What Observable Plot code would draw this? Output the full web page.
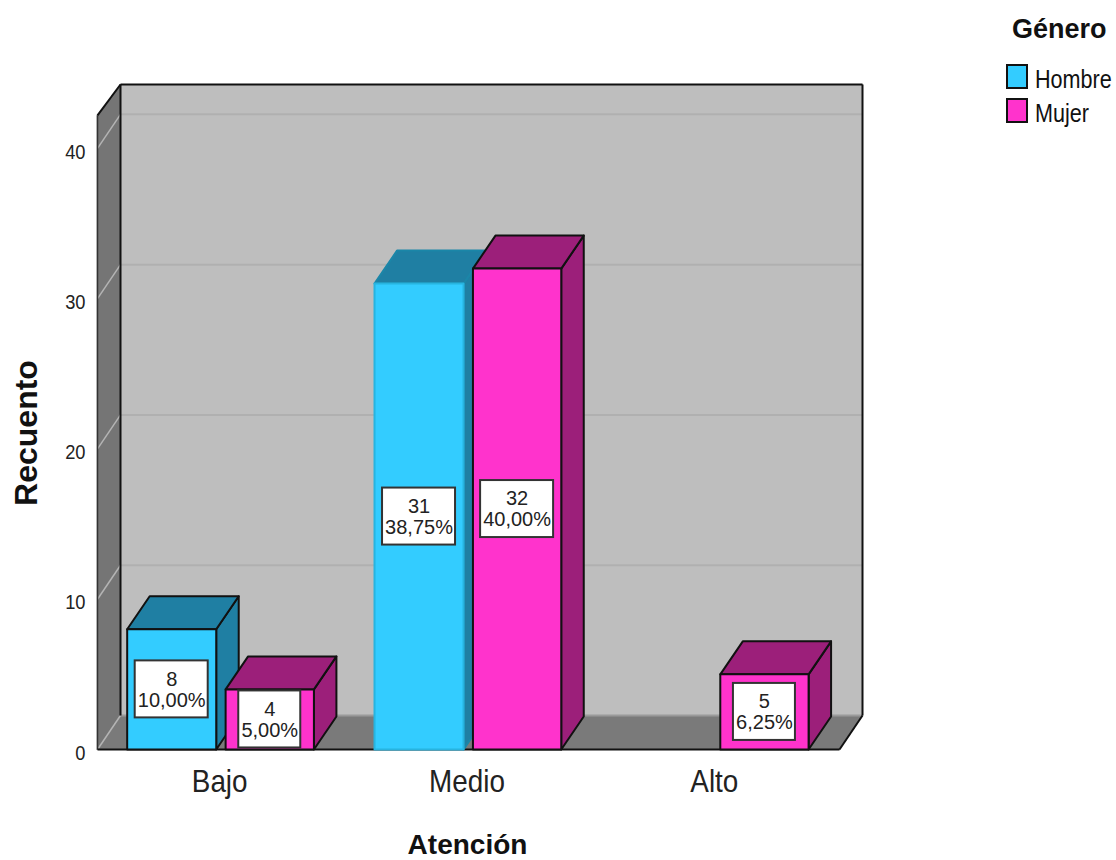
<!DOCTYPE html>
<html>
<head>
<meta charset="utf-8">
<script src="https://cdn.jsdelivr.net/npm/d3@7"></script>
<script src="https://cdn.jsdelivr.net/npm/@observablehq/plot@0.6"></script>
<style>
html,body{margin:0;padding:0;background:#fff;overflow:hidden;width:1116px;height:860px}
#chart{position:absolute;left:0;top:0}
#legend{position:absolute;left:1006px;top:0;font-family:"Liberation Sans",Arial,sans-serif;color:#111}
#legend .t{position:absolute;left:6px;top:13px;font-size:27px;font-weight:bold;line-height:32px;white-space:nowrap}
#legend .r{position:absolute;left:0;display:flex;align-items:center;white-space:nowrap;font-size:26px;height:26px}
#legend .s{box-sizing:border-box;width:22px;height:25px;border:2px solid #111;margin-right:7px}
#legend .n{position:relative;top:3px;display:inline-block;transform:scaleX(0.83);transform-origin:0 50%;width:77px}
</style>
</head>
<body>
<div id="chart"></div>
<div id="legend"></div>
<script>
const categories = ["Bajo", "Medio", "Alto"];
const seriesNames = ["Hombre", "Mujer"];
const hombre = [8, 31, null];
const mujer = [4, 32, 5];
const hombrePct = ["10,00%", "38,75%", null];
const mujerPct = ["5,00%", "40,00%", "6,25%"];
const yTicks = [0, 10, 20, 30, 40];

const frontColors = ["#33ccff", "#ff33cc"];
const depthColors = ["#1f7fa3", "#9c1f7a"];
const hombreEdges = ["#111", "#27b4e0", "#111"];
const hombreDepthEdges = ["#111", "#1b86a8", "#111"];

const xPerPx = 3 / 742, yPerPx = 44.25 / 665;
const wallDx = 23 * xPerPx, wallDy = 34 * yPerPx;
const barDx = 22.5 * xPerPx, barDy = 33 * yPerPx;
const xMin = -0.5, xMax = 2.5, yTop = 44.25, wallFrontTop = 42.2;
const slots = [[-0.38, -0.02], [0.018, 0.375]];

const poly = (id, fill, stroke, pts) => pts.map(([x, y]) => ({id, fill, stroke, x, y}));

const walls = [
  ...poly("back", "#bebebe", "#bebebe", [[xMin + wallDx, yTop], [xMax + wallDx, yTop], [xMax + wallDx, wallDy], [xMin + wallDx, wallDy]]),
  ...poly("left", "#757575", "#757575", [[xMin, wallFrontTop], [xMin + wallDx, yTop], [xMin + wallDx, wallDy], [xMin, 0]]),
  ...poly("floor", "#7a7a7a", "#7a7a7a", [[xMin, 0], [xMax, 0], [xMax + wallDx, wallDy], [xMin + wallDx, wallDy]])
];

const bars = [];
const boxes = [];
[hombre, mujer].forEach((vals, s) => {
  vals.forEach((v, c) => {
    if (v == null) return;
    const x1 = c + slots[s][0], x2 = c + slots[s][1];
    const edge = s === 0 ? hombreEdges[c] : "#111";
    const depthEdge = s === 0 ? hombreDepthEdges[c] : "#111";
    const id = `${s}-${c}`;
    bars.push(
      ...poly(id + "side", depthColors[s], depthEdge, [[x2, 0], [x2 + barDx, barDy], [x2 + barDx, v + barDy], [x2, v]]),
      ...poly(id + "top", depthColors[s], depthEdge, [[x1, v], [x1 + barDx, v + barDy], [x2 + barDx, v + barDy], [x2, v]]),
      ...poly(id + "front", frontColors[s], edge, [[x1, 0], [x2, 0], [x2, v], [x1, v]])
    );
    const pct = (s === 0 ? hombrePct : mujerPct)[c];
    const cx = (x1 + x2) / 2, cy = v / 2;
    const halfW = (pct.length > 5 ? 36.5 : 31) * xPerPx, halfH = 28.5 * yPerPx;
    boxes.push({x1: cx - halfW, x2: cx + halfW, y1: cy - halfH, y2: cy + halfH, cx, cy, label: `${v}\n${pct}`});
  });
});

const font = '"Liberation Sans", Arial, sans-serif';

const plot = Plot.plot({
  width: 1116,
  height: 860,
  marginLeft: 97,
  marginRight: 277,
  marginTop: 84,
  marginBottom: 111,
  style: {fontFamily: font, background: "#fff", overflow: "visible"},
  x: {domain: [xMin, xMax]},
  y: {domain: [0, yTop]},
  color: {type: "identity"},
  marks: [
    Plot.line(walls, {x: "x", y: "y", z: "id", fill: "fill", stroke: "stroke", curve: "linear-closed", strokeWidth: 1}),
    Plot.link(yTicks.filter(d => d > 0), {x1: xMin + wallDx, x2: xMax + wallDx, y1: d => d + wallDy, y2: d => d + wallDy, stroke: "#b0b0b0", strokeWidth: 2}),
    Plot.link([0], {x1: xMin + wallDx, x2: xMax + wallDx, y1: wallDy, y2: wallDy, stroke: "#9a9a9a", strokeWidth: 2}),
    Plot.link(yTicks, {x1: xMin, x2: xMin + wallDx, y1: d => d, y2: d => d + wallDy, stroke: "#b4b4b4", strokeWidth: 1.5}),
    Plot.link([0], {x1: xMin + wallDx, x2: xMax + wallDx, y1: yTop, y2: yTop, stroke: "#111", strokeWidth: 2}),
    Plot.link([0], {x1: xMin, x2: xMin + wallDx, y1: wallFrontTop, y2: yTop, stroke: "#111", strokeWidth: 2}),
    Plot.link([0], {x1: xMin + wallDx, x2: xMin + wallDx, y1: wallDy, y2: yTop, stroke: "#111", strokeWidth: 2}),
    Plot.link([0], {x1: xMin, x2: xMin, y1: 0, y2: wallFrontTop, stroke: "#333", strokeWidth: 1.5}),
    Plot.link([0], {x1: xMax + wallDx, x2: xMax + wallDx, y1: wallDy, y2: yTop, stroke: "#111", strokeWidth: 2}),
    Plot.link([0], {x1: xMax, x2: xMax + wallDx, y1: 0, y2: wallDy, stroke: "#111", strokeWidth: 2}),
    Plot.link([0], {x1: xMin, x2: xMax, y1: 0, y2: 0, stroke: "#111", strokeWidth: 2}),
    Plot.line(bars, {x: "x", y: "y", z: "id", fill: "fill", stroke: "stroke", curve: "linear-closed", strokeWidth: 2, strokeLinejoin: "round"}),
    Plot.rect(boxes, {x1: "x1", x2: "x2", y1: "y1", y2: "y2", fill: "#fff", stroke: "#333", strokeWidth: 2}),
    Plot.text(boxes, {x: "cx", y: "cy", text: "label", fontSize: 20, lineHeight: 1.05, fill: "#222", textAnchor: "middle"}),
    Plot.axisY(yTicks, {anchor: "left", tickSize: 0, tickPadding: 12, fontSize: 21, label: null, dy: 3.5, fill: "#222"}),
    Plot.axisX([0, 1, 2], {anchor: "bottom", tickSize: 0, tickPadding: 20, fontSize: 32, label: null, fill: "#222", dx: -1.5, tickFormat: d => categories[d]}),
    Plot.text(["Atención"], {frameAnchor: "bottom", dx: -1, dy: 104, fontSize: 28, fontWeight: "bold", fill: "#111"}),
    Plot.text(["Recuento"], {frameAnchor: "left", textAnchor: "middle", dx: -71, dy: 16, rotate: -90, fontSize: 32, fontWeight: "bold", fill: "#111"})
  ]
});
document.getElementById("chart").appendChild(plot);

// The reference's tick labels are horizontally condensed
plot.querySelectorAll('[aria-label$="-axis tick label"] text').forEach(el => {
  el.setAttribute("lengthAdjust", "spacingAndGlyphs");
  el.setAttribute("textLength", el.getComputedTextLength() * 0.87);
});

const legend = document.getElementById("legend");
const t = document.createElement("div");
t.className = "t";
t.textContent = "Género";
legend.appendChild(t);
seriesNames.forEach((name, i) => {
  const r = document.createElement("div");
  r.className = "r";
  r.style.top = (63 + i * 34) + "px";
  const s = document.createElement("span");
  s.className = "s";
  s.style.background = frontColors[i];
  r.appendChild(s);
  const n = document.createElement("span");
  n.className = "n";
  n.textContent = name;
  r.appendChild(n);
  legend.appendChild(r);
});
</script>
</body>
</html>
